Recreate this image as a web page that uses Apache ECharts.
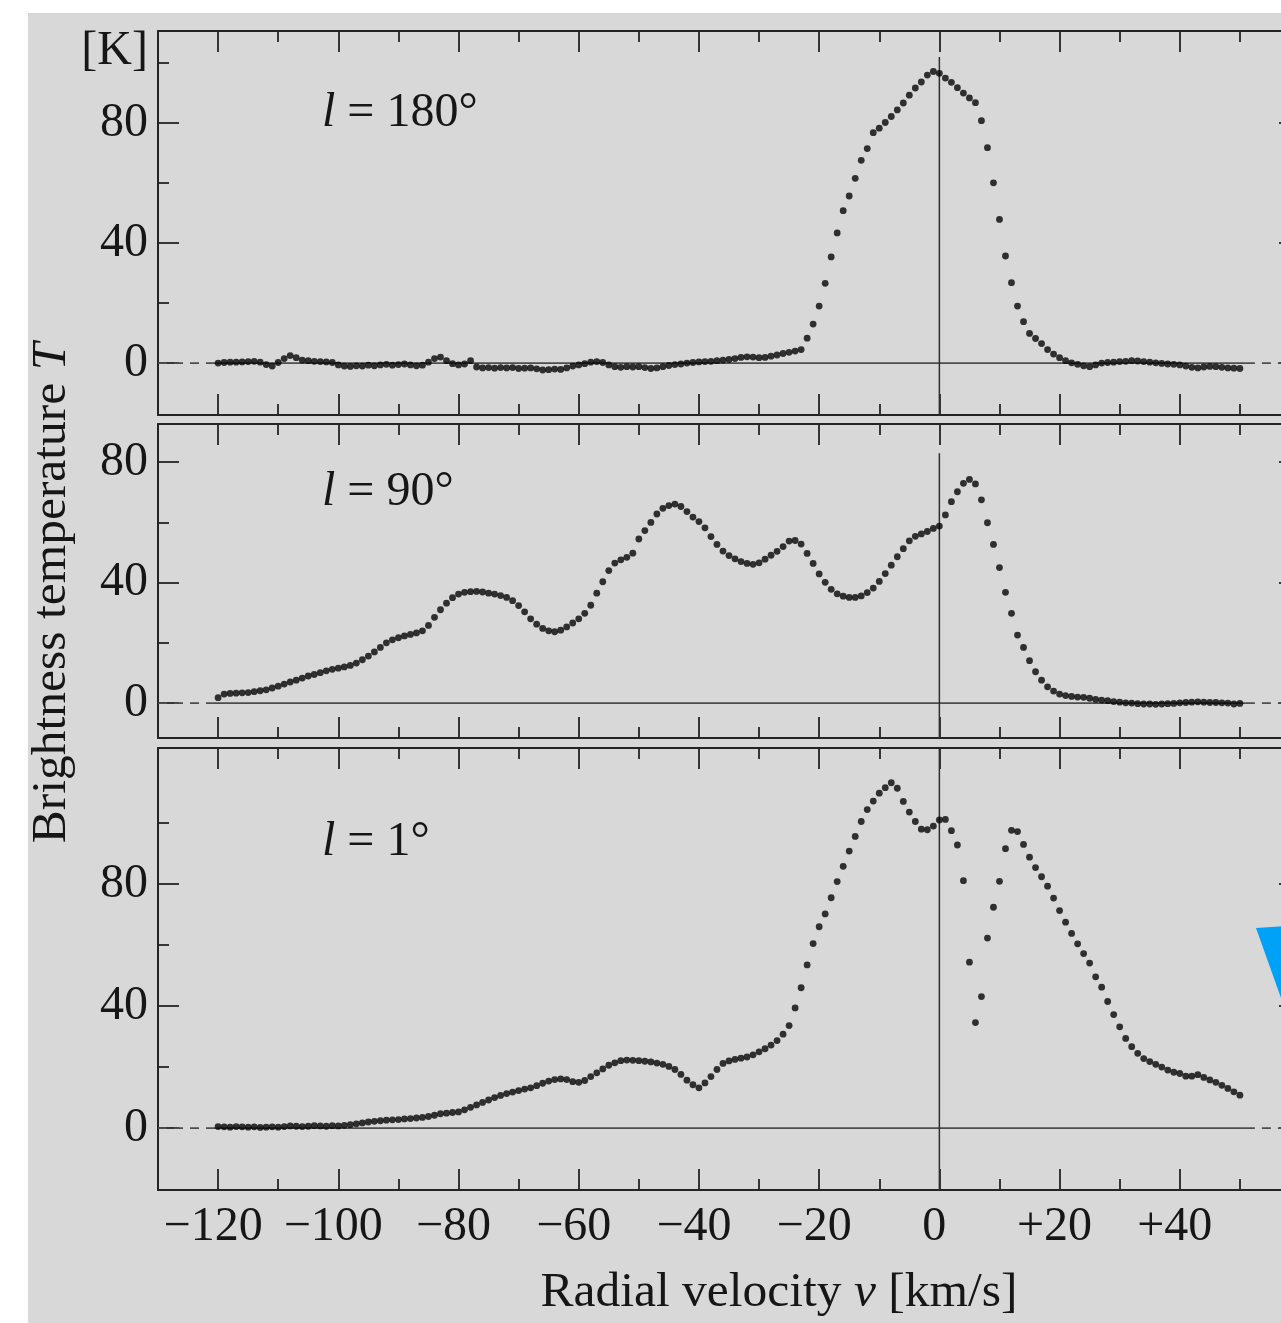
<!DOCTYPE html>
<html><head><meta charset="utf-8">
<script src="https://cdn.jsdelivr.net/npm/echarts@6/dist/echarts.min.js"></script>
<style>
html,body{margin:0;padding:0;background:#fff;}
#wrap{position:relative;width:1281px;height:1323px;overflow:hidden;background:#fff;}
#bg{position:absolute;left:28px;top:13px;right:0;bottom:0;background:#d8d8d8;}
#chart{position:absolute;left:0;top:0;width:1330px;height:1323px;}
</style></head><body>
<div id="wrap"><div id="bg"></div><div id="chart"></div></div>
<script>
// ---------------- data ----------------
const velocity = [
 -120,-119,-118,-117,-116,-115,-114,-113,-112,-111,
 -110,-109,-108,-107,-106,-105,-104,-103,-102,-101,
 -100,-99,-98,-97,-96,-95,-94,-93,-92,-91,
 -90,-89,-88,-87,-86,-85,-84,-83,-82,-81,
 -80,-79,-78,-77,-76,-75,-74,-73,-72,-71,
 -70,-69,-68,-67,-66,-65,-64,-63,-62,-61,
 -60,-59,-58,-57,-56,-55,-54,-53,-52,-51,
 -50,-49,-48,-47,-46,-45,-44,-43,-42,-41,
 -40,-39,-38,-37,-36,-35,-34,-33,-32,-31,
 -30,-29,-28,-27,-26,-25,-24,-23,-22,-21,
 -20,-19,-18,-17,-16,-15,-14,-13,-12,-11,
 -10,-9,-8,-7,-6,-5,-4,-3,-2,-1,
 0,1,2,3,4,5,6,7,8,9,
 10,11,12,13,14,15,16,17,18,19,
 20,21,22,23,24,25,26,27,28,29,
 30,31,32,33,34,35,36,37,38,39,
 40,41,42,43,44,45,46,47,48,49,
 50
];
// l = 180°
const tempL180 = [
 0.0,0.2,0.3,0.3,0.4,0.5,0.6,0.3,-0.5,-1.0,
 0.2,1.5,2.5,1.8,1.0,0.8,0.6,0.5,0.4,0.2,
 -0.6,-1.0,-1.1,-0.9,-1.0,-0.7,-0.9,-0.6,-0.4,-0.7,
 -0.5,-0.3,-0.6,-0.9,-0.7,0.3,1.5,2.0,0.8,-0.2,
 -0.6,-0.3,0.8,-1.3,-1.6,-1.5,-1.7,-1.5,-1.6,-1.5,
 -1.8,-1.7,-1.6,-1.9,-2.3,-2.2,-2.0,-2.1,-1.6,-1.0,
 -0.6,-0.2,0.3,0.5,0.2,-0.6,-1.2,-1.4,-1.2,-1.3,
 -1.2,-1.5,-1.8,-1.6,-1.2,-0.8,-0.5,-0.3,0.0,0.2,
 0.4,0.5,0.6,0.8,1.0,1.2,1.5,1.9,2.1,2.0,
 1.8,1.9,2.3,2.7,3.2,3.6,4.0,4.5,8.3,13.0,
 19.0,26.6,35.4,43.4,50.8,55.7,61.6,67.6,71.5,76.8,
 78.3,80.2,82.2,84.4,86.7,89.3,91.7,93.7,96.0,97.2,
 96.6,95.0,93.6,91.8,90.0,88.4,86.8,80.8,71.8,60.1,
 47.9,35.7,26.8,19.0,13.8,9.9,8.2,6.5,4.5,3.0,
 1.8,0.8,0.1,-0.4,-0.9,-1.2,-0.6,0.0,0.2,0.3,
 0.5,0.6,0.8,0.7,0.5,0.3,0.1,-0.1,-0.3,-0.4,
 -0.6,-1.0,-1.4,-1.6,-1.3,-1.1,-1.2,-1.4,-1.6,-1.7,
 -1.8
];
// l = 90°
const tempL90 = [
 1.8,3.0,3.2,3.3,3.4,3.5,3.8,4.1,4.4,5.0,
 5.6,6.3,7.0,7.6,8.3,9.0,9.5,10.1,10.7,11.2,
 11.6,12.0,12.5,13.3,14.4,15.6,17.0,18.5,20.0,21.0,
 21.7,22.3,22.8,23.3,24.0,25.8,28.5,31.0,33.2,35.0,
 36.2,36.8,37.0,37.1,36.9,36.5,36.2,35.7,35.1,34.0,
 32.4,30.3,28.0,26.2,24.8,24.0,23.7,24.2,25.3,26.6,
 28.0,29.8,32.5,36.5,40.3,44.0,46.5,47.6,48.4,49.8,
 54.5,57.3,60.0,62.8,64.7,65.6,66.1,65.3,63.6,61.8,
 60.3,58.2,55.3,52.7,50.5,49.0,47.9,47.0,46.4,46.1,
 46.6,47.8,49.1,50.4,52.0,53.8,54.0,52.8,49.7,46.4,
 42.9,40.1,37.8,36.3,35.5,35.1,35.1,35.6,36.7,38.2,
 40.4,43.0,45.8,48.6,51.3,53.9,55.4,56.2,57.0,58.0,
 58.8,62.5,66.9,70.2,73.0,74.3,72.8,67.5,59.9,52.7,
 45.0,36.8,29.8,22.6,18.5,14.1,10.4,7.6,5.4,4.0,
 3.0,2.5,2.2,2.0,1.9,1.6,1.2,1.0,0.8,0.5,
 0.3,0.1,0.0,-0.2,-0.3,-0.3,-0.4,-0.3,-0.2,-0.1,
 0.1,0.2,0.3,0.4,0.3,0.2,0.2,0.1,0.0,-0.3,
 -0.1
];
// l = 1°
const tempL1 = [
 0.5,0.4,0.3,0.5,0.4,0.3,0.4,0.2,0.3,0.4,
 0.3,0.5,0.7,0.6,0.5,0.6,0.8,0.7,0.6,0.8,
 0.7,0.9,1.1,1.4,1.7,2.0,2.2,2.4,2.6,2.7,
 2.8,3.0,3.1,3.3,3.5,3.8,4.2,4.7,4.9,5.1,
 5.3,6.0,6.8,7.6,8.4,9.2,10.0,10.7,11.3,11.8,
 12.3,12.8,13.2,13.9,14.7,15.4,15.9,16.1,15.9,15.2,
 15.0,15.6,16.9,18.1,19.4,20.6,21.4,22.1,22.3,22.2,
 22.1,21.9,21.7,21.3,20.9,20.2,19.2,17.6,15.7,14.2,
 13.2,14.8,16.9,19.2,21.2,22.0,22.5,22.9,23.3,24.0,
 25.0,26.0,27.2,28.7,30.8,33.6,39.4,46.0,53.5,60.5,
 66.0,70.2,75.5,80.8,85.8,90.8,95.6,100.5,104.4,107.2,
 109.8,111.6,113.2,111.4,107.1,103.6,100.5,98.0,97.8,99.0,
 101.0,101.2,97.5,92.8,81.1,54.4,34.6,43.1,62.3,72.4,
 80.9,91.6,97.6,97.2,93.0,88.8,85.4,82.4,79.3,75.4,
 71.3,67.5,63.8,60.4,57.2,54.1,49.6,46.2,41.5,37.2,
 33.2,29.4,26.7,24.5,22.8,21.8,20.9,20.0,19.0,18.3,
 17.9,17.0,17.0,17.5,16.6,15.8,15.0,14.0,13.0,11.9,
 10.8
];
const panelLongitudes = ['180°', '90°', '1°'];
const xMajorTicks = [-120,-100,-80,-60,-40,-20,0,20,40,60];
const xMinorTicks = [-110,-90,-70,-50,-30,-10,10,30,50];
const xTickLabels = [-120,-100,-80,-60,-40,-20,0,20,40];
const yMajorTicks = [0,40,80];
const yMinorTicks = [20,60,100];
const yTickLabels = [0,40,80];
const unitLabelValue = 104;          // where "[K]" sits on the top panel
const baselineT = 0;
const centerV = 0;
const traceStartV = -121, traceEndV = 51;

// ---------------- styling / layout ----------------
const FONT = '"Liberation Serif","Times New Roman",serif';
const TXT = '#161616';
const FRAME = '#242424';
const X_MIN = -130, X_MAX = 60;
const panels = [
  {temps: tempL180, grid:{left:158, top:31, width:1142, height:384}, yMin:-17.3, yMax:110.7, vLineTop:102, labelY:113, unit:true,  xLabels:false},
  {temps: tempL90,  grid:{left:158, top:424, width:1142, height:314}, yMin:-11.6, yMax:92.7, vLineTop:83,  labelY:492, unit:false, xLabels:false},
  {temps: tempL1,   grid:{left:158, top:748, width:1142, height:442}, yMin:-20.3, yMax:124.6, vLineTop:124.6, labelY:842, unit:false, xLabels:true}
];

function fmtV(v){ return v < 0 ? '\u2212' + Math.abs(v) : (v > 0 ? '+' + v : '0'); }

function xAxisDef(gi, pos, ticks, len, showLine, labels){
  return {type:'value', gridIndex:gi, position:pos, min:X_MIN, max:X_MAX,
    axisLine:{show:showLine, onZero:false, lineStyle:{color:FRAME, width:2}},
    axisTick:{show:true, inside:true, length:len, customValues:ticks, lineStyle:{color:FRAME, width:1.8}},
    axisLabel: labels ? {show:true, customValues:labels, formatter:fmtV, margin:13,
       padding:[0,10,0,0], color:TXT, fontFamily:FONT, fontSize:48} : {show:false},
    splitLine:{show:false}, axisPointer:{show:false}};
}
function yAxisDef(gi, p, pos, ticks, len, showLine, labels){
  return {type:'value', gridIndex:gi, position:pos, min:p.yMin, max:p.yMax,
    axisLine:{show:showLine, onZero:false, lineStyle:{color:FRAME, width:2}},
    axisTick:{show:true, inside:true, length:len, customValues:ticks, lineStyle:{color:FRAME, width:1.8}},
    axisLabel: labels ? {show:true, customValues:labels, margin:10,
       formatter:function(v){ return v === unitLabelValue ? '[K]' : String(v); },
       color:TXT, fontFamily:FONT, fontSize:48} : {show:false},
    splitLine:{show:false}, axisPointer:{show:false}};
}

const grid = [], xAxis = [], yAxis = [], series = [], graphic = [];
panels.forEach(function(p, i){
  grid.push(Object.assign({containLabel:false}, p.grid));
  xAxis.push(xAxisDef(i,'bottom',xMajorTicks,21,true, p.xLabels ? xTickLabels : null));
  xAxis.push(xAxisDef(i,'bottom',xMinorTicks,11,false,null));
  xAxis.push(xAxisDef(i,'top',xMajorTicks,21,true,null));
  xAxis.push(xAxisDef(i,'top',xMinorTicks,11,false,null));
  yAxis.push(yAxisDef(i,p,'left',yMajorTicks,21,true, p.unit ? yTickLabels.concat([unitLabelValue]) : yTickLabels));
  yAxis.push(yAxisDef(i,p,'left',yMinorTicks,11,false,null));
  yAxis.push(yAxisDef(i,p,'right',yMajorTicks,21,true,null));
  yAxis.push(yAxisDef(i,p,'right',yMinorTicks,11,false,null));
  const xi = 4*i, yi = 4*i;
  const refBase = {type:'line', xAxisIndex:xi, yAxisIndex:yi, symbol:'none', silent:true, z:2, animation:false};
  series.push(Object.assign({}, refBase, {data:[[traceStartV, baselineT],[traceEndV, baselineT]],
     lineStyle:{color:'#4d4d4d', width:1.7}}));
  series.push(Object.assign({}, refBase, {data:[[X_MIN, baselineT],[traceStartV, baselineT]],
     lineStyle:{color:'#4d4d4d', width:1.7, type:[9,7]}}));
  series.push(Object.assign({}, refBase, {data:[[traceEndV, baselineT],[X_MAX, baselineT]],
     lineStyle:{color:'#4d4d4d', width:1.7, type:[9,7]}}));
  series.push(Object.assign({}, refBase, {data:[[centerV, p.yMin],[centerV, p.vLineTop]],
     lineStyle:{color:'#2e2e2e', width:1.5}}));
  series.push({type:'scatter', xAxisIndex:xi, yAxisIndex:yi, silent:true, z:5, animation:false,
     symbol:'circle', symbolSize:6.8, itemStyle:{color:'#050505'},
     data: velocity.map(function(v,k){ return [v, p.temps[k]]; })});
  graphic.push({type:'text', left:322, top:p.labelY - 24, z:10, silent:true,
     style:{text:'{i|l}{n| = ' + panelLongitudes[i] + '}', fill:TXT,
       rich:{i:{fontFamily:FONT, fontSize:48, fontStyle:'italic', fill:TXT, height:48},
             n:{fontFamily:FONT, fontSize:48, fill:TXT, height:48}}}});
});

graphic.push({type:'text', x:52, y:593, rotation:Math.PI/2, z:10, silent:true,
  style:{text:'{n|Brightness temperature }{i|T}', align:'center', verticalAlign:'middle', fill:TXT,
    rich:{n:{fontFamily:FONT, fontSize:49.5, fill:TXT}, i:{fontFamily:FONT, fontSize:49.5, fontStyle:'italic', fill:TXT}}}});
graphic.push({type:'text', x:779, y:1293, z:10, silent:true,
  style:{text:'{n|Radial velocity }{i|v}{n| [km/s]}', align:'center', verticalAlign:'middle', fill:TXT,
    rich:{n:{fontFamily:FONT, fontSize:49.5, fill:TXT}, i:{fontFamily:FONT, fontSize:49.5, fontStyle:'italic', fill:TXT}}}});
// blue corner mark at the right edge
graphic.push({type:'polygon', z:10, silent:true,
  shape:{points:[[1256,928],[1286,926],[1286,1012]]}, style:{fill:'#00a2f8'}});

const chart = echarts.init(document.getElementById('chart'), null, {renderer:'canvas'});
chart.setOption({backgroundColor:'transparent', animation:false, grid:grid, xAxis:xAxis, yAxis:yAxis, series:series, graphic:graphic});
</script>
</body></html>
